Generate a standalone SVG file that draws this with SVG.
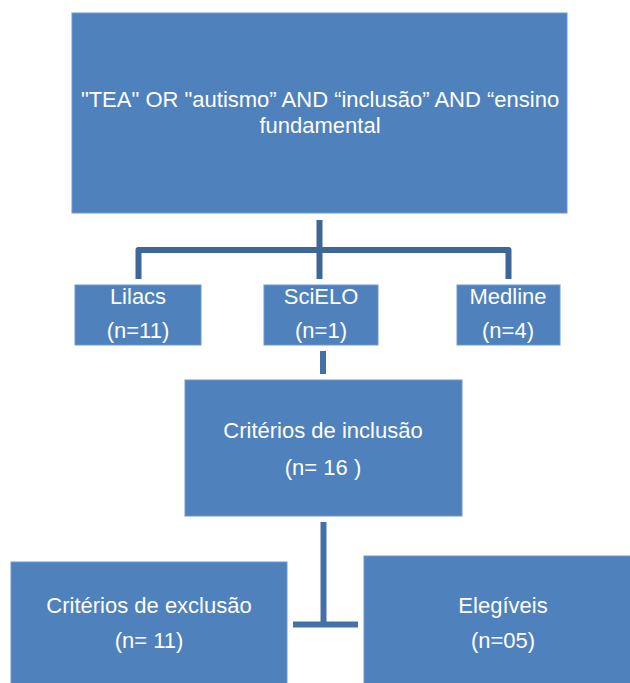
<svg xmlns="http://www.w3.org/2000/svg" width="630" height="683" viewBox="0 0 630 683">
<style>
.box{fill:#4F81BD;stroke:#6F98CC;stroke-width:1}
.t{font-family:"Liberation Sans",Arial,sans-serif;font-size:22px;fill:#FFFFFF;text-anchor:middle}
.c1{fill:none;stroke:#3D6796;stroke-width:6;stroke-linejoin:round;stroke-linecap:butt}
.c2{fill:none;stroke:#4472A8;stroke-width:6}
</style>
<rect x="0" y="0" width="630" height="683" fill="#FFFFFF"/>
<g id="connectors">
<path class="c1" d="M319.5 220 V250"/>
<path class="c1" d="M138.5 279 V250 H508.5 V279"/>
<path class="c1" d="M319.5 250 V279"/>
<path class="c2" d="M323 351 V374"/>
<path class="c2" d="M323.5 522 V627"/>
<path class="c2" d="M293 624.5 H358"/>
</g>
<g id="query">
<rect class="box" x="72" y="13" width="495" height="200"/>
<text class="t" x="320" y="107">"TEA" OR "autismo” AND “inclusão” AND “ensino</text>
<text class="t" x="320" y="133">fundamental</text>
</g>
<g id="lilacs">
<rect class="box" x="75" y="285" width="126" height="60"/>
<text class="t" x="138" y="304">Lilacs</text>
<text class="t" x="138" y="338">(n=11)</text>
</g>
<g id="scielo">
<rect class="box" x="264" y="285" width="114" height="60"/>
<text class="t" x="321" y="304">SciELO</text>
<text class="t" x="321" y="338">(n=1)</text>
</g>
<g id="medline">
<rect class="box" x="457" y="285" width="103" height="60"/>
<text class="t" x="508" y="304">Medline</text>
<text class="t" x="508" y="338">(n=4)</text>
</g>
<g id="inclusao">
<rect class="box" x="185" y="380" width="277" height="136"/>
<text class="t" x="323" y="438">Critérios de inclusão</text>
<text class="t" x="323" y="475">(n= 16 )</text>
</g>
<g id="exclusao">
<rect class="box" x="11" y="562" width="276" height="130"/>
<text class="t" x="149" y="613">Critérios de exclusão</text>
<text class="t" x="149" y="648">(n= 11)</text>
</g>
<g id="elegiveis">
<rect class="box" x="364" y="556" width="280" height="140"/>
<text class="t" x="503" y="613">Elegíveis</text>
<text class="t" x="503" y="648">(n=05)</text>
</g>
</svg>
